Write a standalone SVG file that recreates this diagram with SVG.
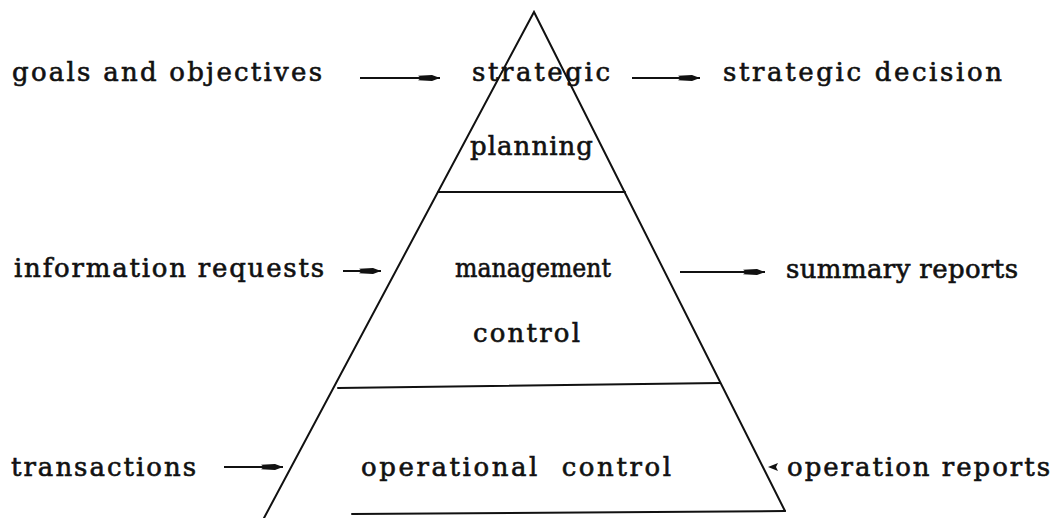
<svg xmlns="http://www.w3.org/2000/svg" width="1062" height="518" viewBox="0 0 1062 518">
  <style>
    .bg { fill: #ffffff; }
    .edge { fill: none; stroke: #111111; stroke-width: 2; stroke-linecap: round; }
    .lbl { font-family: "DejaVu Serif", "Liberation Serif", serif; font-size: 26px; fill: #111111; stroke: #111111; stroke-width: 0.6; white-space: pre; }
    .arrow { fill: none; stroke: #111111; stroke-width: 1.8; }
    .head { fill: #111111; }
  </style>
  <defs>
    <!-- elongated typewriter-style arrowhead -->
    <marker id="dart" markerUnits="userSpaceOnUse" markerWidth="26" markerHeight="10" viewBox="-24 -5 26 10" refX="0" refY="0" orient="auto">
      <path class="head" d="M-22,-2.2 L-8,-3 L0,0 L-8,3 L-22,2.2 L-19,0 Z"/>
    </marker>
  </defs>

  <rect class="bg" x="0" y="0" width="1062" height="518"/>

  <!-- pyramid outline -->
  <g id="pyramid">
    <path class="edge" d="M264,518 L534,12 L785,511"/>
    <path class="edge" d="M352,514 L785,511"/>
  </g>

  <!-- top tier -->
  <g id="strategic-planning">
    <path class="edge" d="M438,192 L625,192"/>
    <text class="lbl" x="472" y="81" textLength="138" lengthAdjust="spacing">strategic</text>
    <text class="lbl" x="470" y="155" textLength="123" lengthAdjust="spacing">planning</text>
  </g>

  <!-- middle tier -->
  <g id="management-control">
    <path class="edge" d="M338,388 L720,383"/>
    <text class="lbl" x="455" y="277" textLength="156" lengthAdjust="spacingAndGlyphs">management</text>
    <text class="lbl" x="473" y="342" textLength="107" lengthAdjust="spacing">control</text>
  </g>

  <!-- bottom tier -->
  <g id="operational-control">
    <text class="lbl" x="361" y="476" textLength="310" lengthAdjust="spacing">operational  control</text>
  </g>

  <!-- inputs -->
  <g id="goals-and-objectives">
    <text class="lbl" x="12" y="81" textLength="310" lengthAdjust="spacing">goals and objectives</text>
  </g>
  <g id="information-requests">
    <text class="lbl" x="14" y="277" textLength="310" lengthAdjust="spacing">information requests</text>
  </g>
  <g id="transactions">
    <text class="lbl" x="11" y="476" textLength="185" lengthAdjust="spacing">transactions</text>
  </g>

  <!-- outputs -->
  <g id="strategic-decision">
    <text class="lbl" x="723" y="81" textLength="279" lengthAdjust="spacing">strategic decision</text>
  </g>
  <g id="summary-reports">
    <text class="lbl" x="786" y="278" textLength="232" lengthAdjust="spacing">summary reports</text>
  </g>
  <g id="operation-reports">
    <text class="lbl" x="787" y="476" textLength="263" lengthAdjust="spacing">operation reports</text>
  </g>

  <!-- connectors -->
  <g id="connectors">
    <line class="arrow" x1="360" y1="78" x2="440" y2="78" marker-end="url(#dart)"/>
    <line class="arrow" x1="632" y1="78" x2="700" y2="78" marker-end="url(#dart)"/>
    <line class="arrow" x1="343" y1="271" x2="381" y2="271" marker-end="url(#dart)"/>
    <line class="arrow" x1="680" y1="272" x2="765" y2="272" marker-end="url(#dart)"/>
    <line class="arrow" x1="224" y1="467" x2="283" y2="467" marker-end="url(#dart)"/>
    <path class="head" d="M768,467 L778,463 L776,467 L778,471 Z"/>
  </g>
</svg>
